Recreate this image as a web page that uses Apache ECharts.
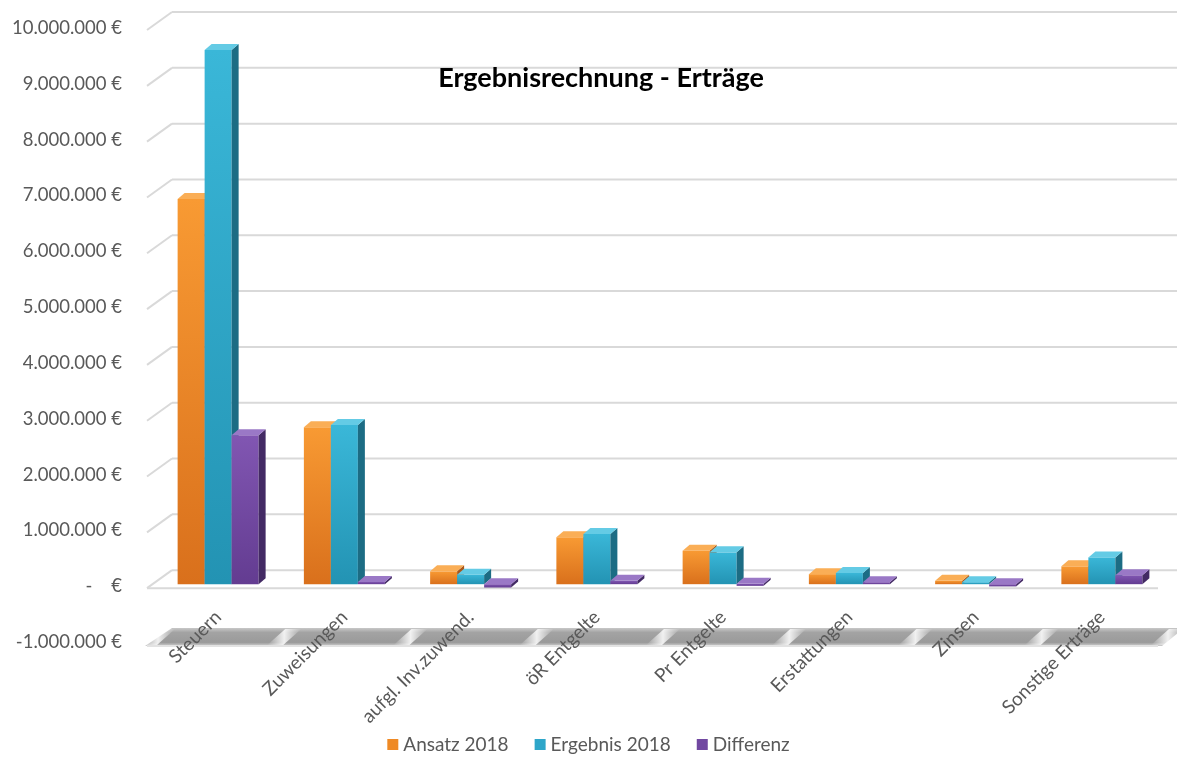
<!DOCTYPE html>
<html>
<head>
<meta charset="utf-8">
<script src="https://cdn.jsdelivr.net/npm/echarts@6/dist/echarts.min.js"></script>
<style>
html, body { margin: 0; padding: 0; background: #fff; }
#container { width: 1177px; height: 760px; }
</style>
</head>
<body>
<div id="container"></div>
<script>
var categories = ['Steuern', 'Zuweisungen', 'aufgl. Inv.zuwend.', 'öR Entgelte', 'Pr Entgelte', 'Erstattungen', 'Zinsen', 'Sonstige Erträge'];
var ansatz = [6900000, 2810000, 230000, 840000, 600000, 180000, 60000, 320000];
var ergebnis = [9570000, 2850000, 170000, 900000, 570000, 200000, 20000, 480000];
var differenz = [2670000, 40000, -60000, 60000, -30000, 20000, -40000, 160000];
var yTicks = [-1000000, 0, 1000000, 2000000, 3000000, 4000000, 5000000, 6000000, 7000000, 8000000, 9000000, 10000000];

var dom = document.getElementById("container");
var myChart = echarts.init(dom);
var option = null;

var fontFam = 'Lato, "Open Sans", sans-serif';
var grey = '#595959';

// front / side / top colours for the fake 3d boxes
var palette = [
    { front: ['#F89A33', '#D9701C'], side: '#A9561A', top: '#FAAE56', legend: '#EF8A25' },
    { front: ['#3AB7D8', '#2393B3'], side: '#1C6C84', top: '#64CBE5', legend: '#2EA6C9' },
    { front: ['#8156B2', '#633C91'], side: '#432A64', top: '#9A78C6', legend: '#7148A1' }
];

function fmtEuro(v) {
    if (v === 0) return '-    €';
    var s = Math.abs(v).toString().replace(/\B(?=(\d{3})+(?!\d))/g, '.');
    return (v < 0 ? '-' : '') + s + ' €';
}

function boxRender(idx) {
    var c = palette[idx];
    return function (params, api) {
        var ci = api.value(0);
        var v = api.value(1);
        var base = api.coord([ci, 0]);
        var tip = api.coord([ci, v]);
        var w = 27, dx = 7, dy = 6;
        var x = base[0] - 1.5 * w + idx * w;
        var y0 = base[1] - 2, y1 = tip[1] - 2;
        var yTop = Math.min(y0, y1), yBot = Math.max(y0, y1);
        if (yBot - yTop < 2) yTop = yBot - 2;
        return {
            type: 'group',
            children: [
                {
                    type: 'rect',
                    shape: { x: x, y: yTop, width: w, height: yBot - yTop },
                    style: {
                        fill: new echarts.graphic.LinearGradient(0, 0, 0, 1, [
                            { offset: 0, color: c.front[0] },
                            { offset: 1, color: c.front[1] }
                        ])
                    }
                },
                {
                    type: 'polygon',
                    shape: { points: [[x + w, yTop], [x + w + dx, yTop - dy], [x + w + dx, yBot - dy], [x + w, yBot]] },
                    style: { fill: c.side }
                },
                {
                    type: 'polygon',
                    shape: { points: [[x, yTop], [x + dx, yTop - dy], [x + w + dx, yTop - dy], [x + w, yTop]] },
                    style: { fill: c.top }
                }
            ]
        };
    };
}

function wallRender(params, api) {
    var v = api.value(1);
    var band = api.size([1, 0])[0];
    var p = api.coord([0, v]);
    var pr = api.coord([categories.length - 1, v]);
    var left = p[0] - band / 2 - 8;
    var right = pr[0] + band / 2 - 7;
    var y = p[1];
    var lineStyle = { stroke: '#D9D9D9', lineWidth: 2 };
    var children = [];
    if (v < 0) {
        // floor slab at the lowest tick, streaks at the category boundaries
        children.push({
            type: 'polygon',
            shape: { points: [[left - 2, y + 4], [left + 25, y - 14], [right + 26, y - 14], [right + 4, y + 4]] },
            style: {
                fill: new echarts.graphic.LinearGradient(0, 0, 0, 1, [
                    { offset: 0, color: '#C8C8C8' },
                    { offset: 0.25, color: '#A3A3A3' },
                    { offset: 0.8, color: '#9A9A9A' },
                    { offset: 1, color: '#D0D0D0' }
                ])
            }
        });
        for (var i = 0; i <= categories.length; i++) {
            var bx = left + 8 + i * band;
            children.push({
                type: 'polygon',
                shape: { points: [[bx - 14, y + 3], [bx + 2, y + 3], [bx + 20, y - 13], [bx + 4, y - 13]] },
                style: {
                    fill: new echarts.graphic.LinearGradient(0, 0, 1, 0, [
                        { offset: 0, color: 'rgba(255,255,255,0)' },
                        { offset: 0.5, color: 'rgba(255,255,255,0.85)' },
                        { offset: 1, color: 'rgba(255,255,255,0)' }
                    ])
                }
            });
        }
        children.push({
            type: 'line',
            shape: { x1: left, y1: y + 4, x2: right, y2: y + 4 },
            style: { stroke: '#E2E2E2', lineWidth: 2 }
        });
        return { type: 'group', children: children };
    }
    children.push({
        type: 'line',
        shape: { x1: left, y1: y + 2, x2: left + 25, y2: y - 16 },
        style: lineStyle
    });
    children.push({
        type: 'line',
        shape: { x1: left + 25, y1: y - 16, x2: 1177, y2: y - 16 },
        style: lineStyle
    });
    if (v === 0) {
        children.push({
            type: 'line',
            shape: { x1: left, y1: y + 2, x2: right, y2: y + 2 },
            style: lineStyle
        });
    }
    return { type: 'group', children: children };
}

function toData(arr) {
    return arr.map(function (v, i) { return [i, v]; });
}

option = {
    backgroundColor: '#fff',
    animation: false,
    title: {
        text: 'Ergebnisrechnung - Erträge',
        left: 596,
        top: 60,
        textAlign: 'center',
        textStyle: { fontFamily: fontFam, fontWeight: 'bold', fontSize: 27, color: '#000' }
    },
    legend: {
        bottom: 1,
        left: 'center',
        itemWidth: 11,
        itemHeight: 11,
        itemGap: 26,
        icon: 'rect',
        textStyle: { fontFamily: fontFam, fontSize: 19, color: grey },
        data: ['Ansatz 2018', 'Ergebnis 2018', 'Differenz']
    },
    grid: {
        left: 155,
        right: 12,
        top: 28,
        bottom: 118
    },
    xAxis: {
        type: 'category',
        data: categories,
        z: 10,
        axisLine: { show: false },
        axisTick: { show: false },
        axisLabel: {
            interval: 0,
            rotate: 45,
            margin: -28,
            fontFamily: fontFam,
            fontSize: 19,
            color: grey
        }
    },
    yAxis: {
        type: 'value',
        min: -1000000,
        max: 10000000,
        interval: 1000000,
        splitLine: { show: false },
        axisLine: { show: false },
        axisTick: { show: false },
        axisLabel: {
            margin: 33,
            fontFamily: fontFam,
            fontSize: 18.5,
            color: grey,
            formatter: fmtEuro
        }
    },
    series: [
        {
            name: 'walls',
            type: 'custom',
            silent: true,
            z: 1,
            renderItem: wallRender,
            data: yTicks.map(function (v) { return [0, v]; })
        },
        {
            name: 'Ansatz 2018',
            type: 'custom',
            z: 2,
            itemStyle: { color: palette[0].legend },
            renderItem: boxRender(0),
            data: toData(ansatz)
        },
        {
            name: 'Ergebnis 2018',
            type: 'custom',
            z: 3,
            itemStyle: { color: palette[1].legend },
            renderItem: boxRender(1),
            data: toData(ergebnis)
        },
        {
            name: 'Differenz',
            type: 'custom',
            z: 4,
            itemStyle: { color: palette[2].legend },
            renderItem: boxRender(2),
            data: toData(differenz)
        }
    ]
};

if (option && typeof option === "object") {
    myChart.setOption(option, true);
}
</script>
</body>
</html>
